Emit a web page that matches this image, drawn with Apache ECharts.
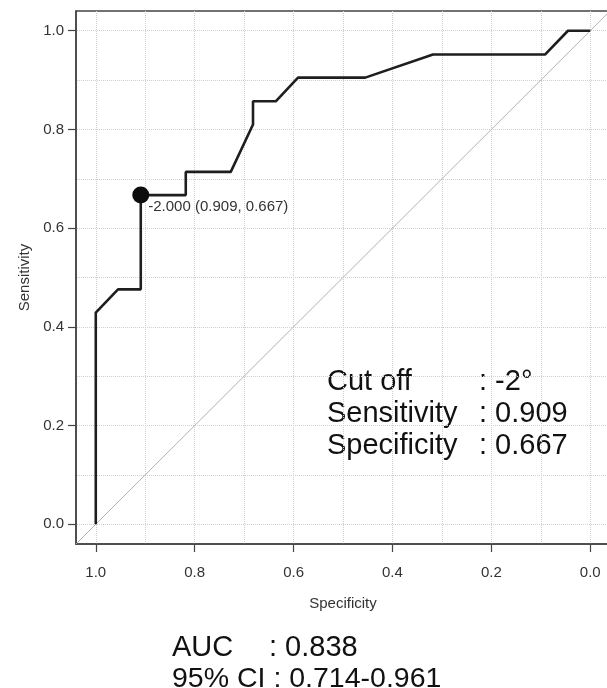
<!DOCTYPE html>
<html><head><meta charset="utf-8">
<script src="https://cdn.jsdelivr.net/npm/echarts@6/dist/echarts.min.js"></script>
<style>html,body{margin:0;padding:0;background:#fff}#c{width:607px;height:688px}</style>
</head><body><div id="c"></div>
<script>
// ROC curve (x = specificity, reversed axis; y = sensitivity)
const specificity = [1.0, 1.0, 0.955, 0.909, 0.909, 0.818, 0.818, 0.727, 0.682, 0.682, 0.636, 0.591, 0.455, 0.318, 0.091, 0.045, 0.0];
const sensitivity = [0.0, 0.429, 0.476, 0.476, 0.667, 0.667, 0.714, 0.714, 0.810, 0.857, 0.857, 0.905, 0.905, 0.952, 0.952, 1.0, 1.0];
const thresholdPoint = [0.909, 0.667];
const thresholdLabel = '-2.000 (0.909, 0.667)';
const chanceX = [1.04, -0.04];
const chanceY = [-0.04, 1.04];
const tickValues = [0, 0.2, 0.4, 0.6, 0.8, 1.0];
const gridValues = [0, 0.1, 0.2, 0.3, 0.4, 0.5, 0.6, 0.7, 0.8, 0.9, 1.0];
const axisMin = -0.04, axisMax = 1.04;
const statsLabels = ['Cut off', 'Sensitivity', 'Specificity'];
const statsValues = [': -2\u00B0', ': 0.909', ': 0.667'];
const aucLine1 = ['AUC', ': 0.838'];
const aucLine2 = '95% CI : 0.714-0.961';

const FONT = '"Liberation Sans", Arial, Helvetica, sans-serif';
const chart = echarts.init(document.getElementById('c'), null, {renderer: 'canvas'});

const axisCommon = {
  type: 'value', min: axisMin, max: axisMax,
  axisLine: {show: true, onZero: false, lineStyle: {color: '#444', width: 1.5}},
  axisTick: {show: true, inside: false, customValues: tickValues, length: 8, lineStyle: {color: '#444', width: 1.2}},
  axisLabel: {customValues: tickValues, formatter: v => v.toFixed(1), color: '#333', fontSize: 15, fontFamily: FONT, margin: 21},
  splitLine: {show: false},
  nameLocation: 'middle',
  nameTextStyle: {color: '#333', fontSize: 15, fontFamily: FONT}
};

const statsGraphics = [];
statsLabels.forEach((t, i) => {
  statsGraphics.push({type: 'text', left: 327, top: 367 + i * 32,
    style: {text: t, font: '29px ' + FONT, fill: '#111'}});
  statsGraphics.push({type: 'text', left: 479, top: 367 + i * 32,
    style: {text: statsValues[i], font: '29px ' + FONT, fill: '#111'}});
});
statsGraphics.push({type: 'text', left: 172, top: 633, style: {text: aucLine1[0], font: '29px ' + FONT, fill: '#111'}});
statsGraphics.push({type: 'text', left: 269, top: 633, style: {text: aucLine1[1], font: '29px ' + FONT, fill: '#111'}});
statsGraphics.push({type: 'text', left: 172, top: 665, style: {text: aucLine2, font: '28.5px ' + FONT, fill: '#111'}});

chart.setOption({
  animation: false,
  backgroundColor: '#fff',
  grid: {left: 76, top: 11, width: 534, height: 533, show: true, borderColor: '#444', borderWidth: 1.5, containLabel: false, outerBoundsMode: 'none'},
  xAxis: Object.assign({}, axisCommon, {inverse: true, name: 'Specificity', nameGap: 52}),
  yAxis: Object.assign({}, axisCommon, {name: 'Sensitivity', nameGap: 39,
    axisLabel: Object.assign({}, axisCommon.axisLabel, {margin: 12})}),
  graphic: statsGraphics,
  series: [
    {
      type: 'line', z: 0, silent: true, symbol: 'none', data: [],
      markLine: {
        silent: true, symbol: 'none', label: {show: false}, z: 0,
        lineStyle: {type: 'dotted', color: '#cfcfcf', width: 1},
        data: gridValues.map(v => ({xAxis: v})).concat(gridValues.map(v => ({yAxis: v})))
      }
    },
    {
      type: 'line', z: 1, silent: true, symbol: 'none',
      data: chanceX.map((x, i) => [x, chanceY[i]]),
      lineStyle: {color: '#b3b3b3', width: 1}
    },
    {
      type: 'line', z: 5, silent: true, symbol: 'none',
      data: specificity.map((s, i) => [s, sensitivity[i]]),
      lineStyle: {color: '#1e1e1e', width: 2.6}
    },
    {
      type: 'scatter', z: 6, silent: true, symbolSize: 17,
      data: [thresholdPoint],
      itemStyle: {color: '#0d0d0d', opacity: 1},
      label: {show: true, position: 'right', distance: -1, offset: [0, 12], formatter: thresholdLabel,
        color: '#333', fontSize: 15, fontFamily: FONT}
    }
  ]
});
</script></body></html>
